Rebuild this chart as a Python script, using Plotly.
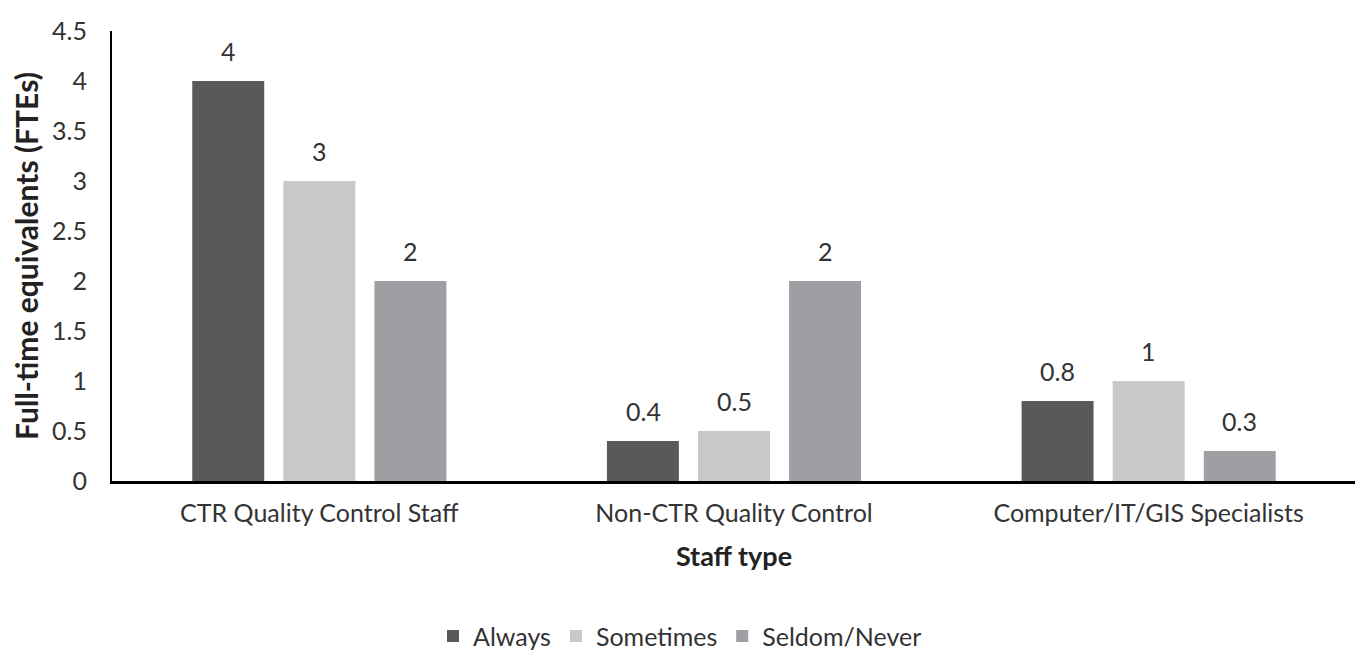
import plotly.graph_objects as go

categories = ["CTR Quality Control Staff", "Non-CTR Quality Control", "Computer/IT/GIS Specialists"]
series_names = ["Always", "Sometimes", "Seldom/Never"]
always = [4, 0.4, 0.8]
sometimes = [3, 0.5, 1]
seldom = [2, 2, 0.3]
y_ticks = [0, 0.5, 1, 1.5, 2, 2.5, 3, 3.5, 4, 4.5]

colors = ["#59595b", "#c7c8ca", "#9e9fa2"]
FONT = "Lato"
TXT = "#333333"
FS = 25

fig = go.Figure()
all_series = [always, sometimes, seldom]
for name, vals, col in zip(series_names, all_series, colors):
    fig.add_trace(go.Bar(
        name=name, x=categories, y=vals,
        marker=dict(color=col, line=dict(width=0)),
    ))

# data labels above bars
shifts = [-91, 0, 91]
for vals, sh in zip(all_series, shifts):
    for c, v in zip(categories, vals):
        fig.add_annotation(x=c, y=v, text=f"{v:g}", showarrow=False,
                           xshift=sh, yshift=30, yanchor="middle",
                           font=dict(family=FONT, size=FS, color=TXT))

fig.update_layout(
    width=1355, height=658,
    margin=dict(l=104, r=7, t=16, b=177),
    paper_bgcolor="white", plot_bgcolor="white",
    barmode="group", bargap=0.341, bargroupgap=0.21,
    font=dict(family=FONT, size=FS, color=TXT),
    showlegend=True,
    legend=dict(orientation="h", x=0.4566, xanchor="center", y=-0.345, yanchor="middle",
                font=dict(family=FONT, size=FS, color=TXT), itemwidth=30),
    xaxis=dict(
        showline=True, linecolor="black", linewidth=2.5,
        ticks="outside", ticklen=8, tickcolor="rgba(0,0,0,0)",
        tickfont=dict(family=FONT, size=FS, color=TXT),
        title=dict(text="<b>Staff type</b>", standoff=22,
                   font=dict(family=FONT, size=27, color="#222222")),
        showgrid=False, zeroline=False,
    ),
    yaxis=dict(
        range=[0, 4.5], tickvals=y_ticks, ticktext=[f"{t:g}" for t in y_ticks],
        showline=True, linecolor="black", linewidth=2, ticks="outside", ticklen=18,
        tickcolor="rgba(0,0,0,0)", ticklabeloverflow="allow",
        tickfont=dict(family=FONT, size=FS, color=TXT),
        title=dict(text="<b>Full-time equivalents (FTEs)</b>", standoff=8,
                   font=dict(family=FONT, size=30, color="#222222")),
        showgrid=False, zeroline=False,
    ),
)

fig.write_html("out.html")
